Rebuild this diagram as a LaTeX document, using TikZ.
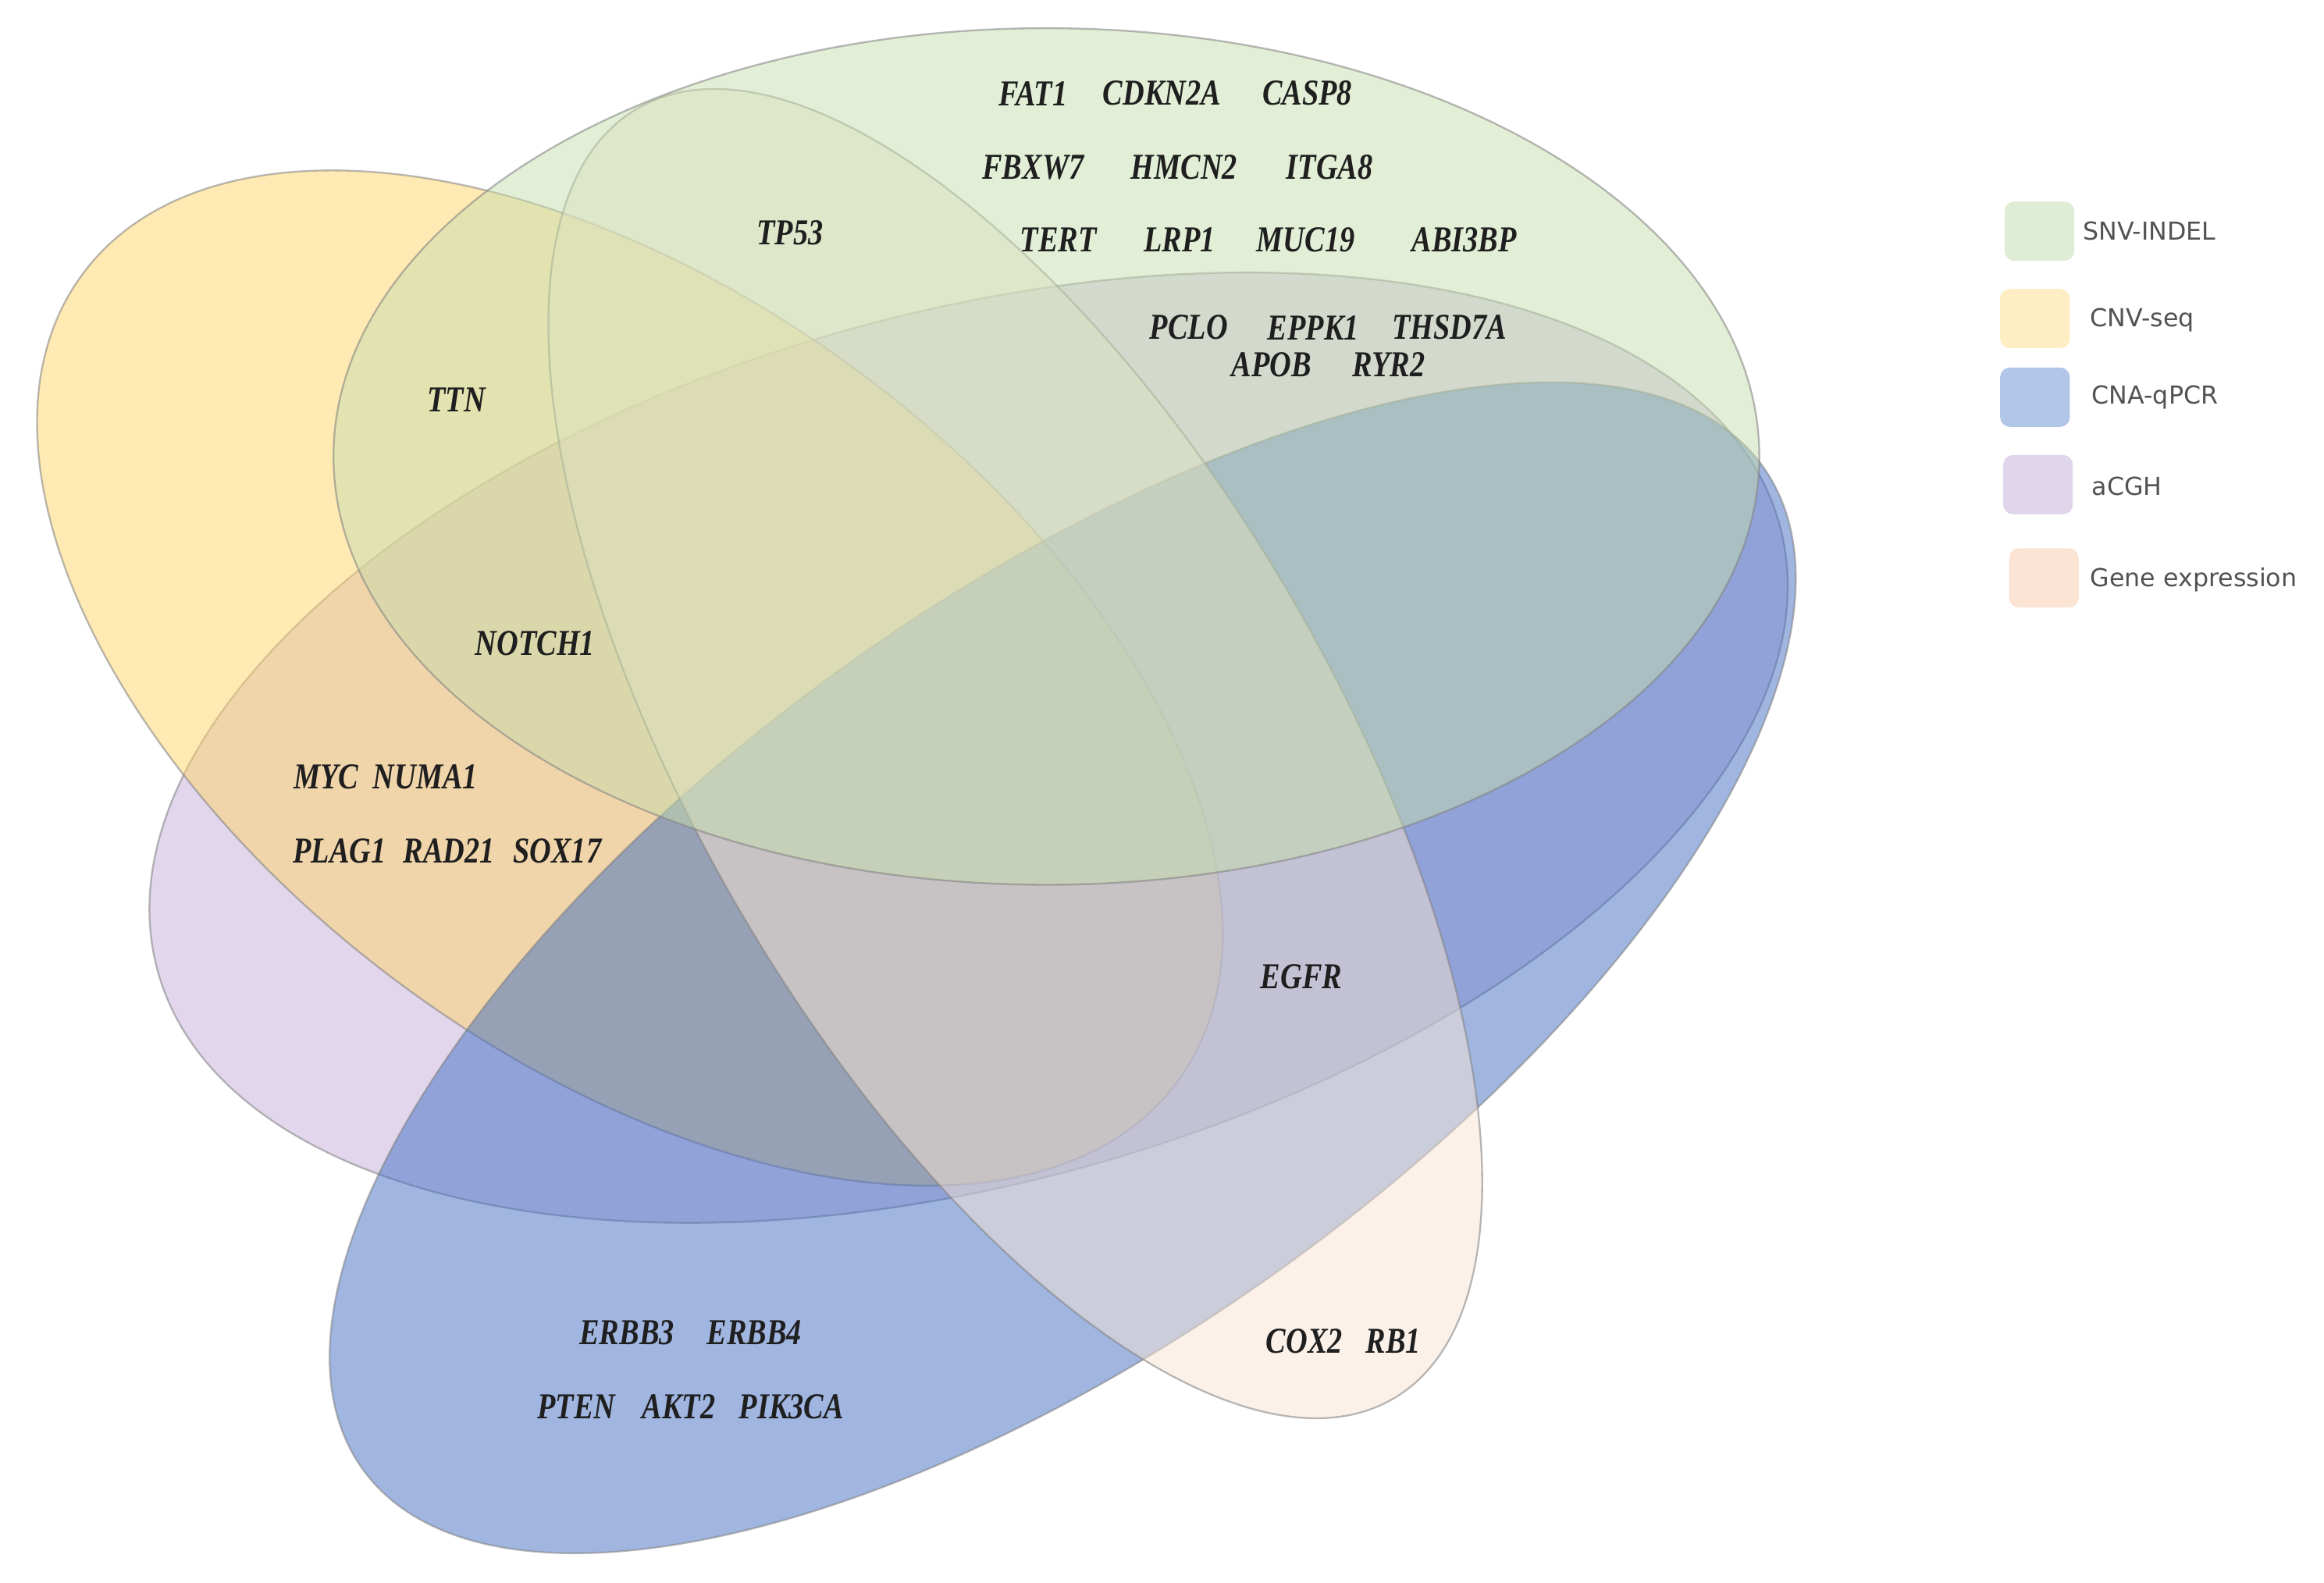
\documentclass[tikz,border=0pt]{standalone}
\usepackage{fontspec}
\setmainfont{Liberation Serif}
\newfontfamily\legendfont{DejaVu Sans}
\usepackage{graphicx}
\definecolor{cGreen}{RGB}{197,221,173}
\definecolor{cYellow}{RGB}{255,213,105}
\definecolor{cBlue}{RGB}{65,110,196}
\definecolor{cPeach}{RGB}{247,227,211}
\definecolor{cPurple}{RGB}{195,173,217}
\definecolor{lGreen}{RGB}{224,237,214}
\definecolor{lYellow}{RGB}{255,238,196}
\definecolor{lBlue}{RGB}{178,198,232}
\definecolor{lPurple}{RGB}{224,214,236}
\definecolor{lPeach}{RGB}{251,228,212}
\newcommand{\genename}[1]{\scalebox{0.82}[1]{#1}}
\begin{document}
\begin{tikzpicture}[
  setshape/.style={fill=#1, fill opacity=0.5, draw=black!50, draw opacity=0.55, line width=0.7pt},
  gene/.style={font=\fontsize{14}{16}\selectfont\bfseries\itshape, text=black!88, inner sep=0pt},
  legbox/.style={fill=#1, rounded corners=1.3mm, minimum width=0.94cm, minimum height=0.8cm, inner sep=0pt},
  legtext/.style={font=\legendfont\fontsize{9.5}{11}\selectfont, text=black!68, anchor=west, inner sep=0pt}
]
\useasboundingbox (0,0) rectangle (31.36,-21.36);

% sets (bottom to top)
\path[setshape=cPurple, shift={(13.07,-10.09)}, rotate=15.4] (0,0) ellipse [x radius=11.35, y radius=5.87];
\path[setshape=cYellow, shift={(8.50,-9.15)}, rotate=-36.4] (0,0) ellipse [x radius=9.18, y radius=5.16];
\path[setshape=cBlue, shift={(14.34,-13.06)}, rotate=35.6] (0,0) ellipse [x radius=11.62, y radius=5.02];
\path[setshape=cPeach, shift={(13.70,-10.17)}, rotate=-59.6] (0,0) ellipse [x radius=10.09, y radius=4.28];
\path[setshape=cGreen, shift={(14.12,-6.16)}] (0,0) ellipse [x radius=9.62, y radius=5.78];

% gene labels
\node[gene] (fat1)   at (13.94,-1.26) {\genename{FAT1}};
\node[gene] (cdkn2a) at (15.68,-1.26) {\genename{CDKN2A}};
\node[gene] (casp8)  at (17.64,-1.26) {\genename{CASP8}};
\node[gene] (fbxw7)  at (13.94,-2.26) {\genename{FBXW7}};
\node[gene] (hmcn2)  at (15.98,-2.26) {\genename{HMCN2}};
\node[gene] (itga8)  at (17.94,-2.26) {\genename{ITGA8}};
\node[gene] (tert)   at (14.28,-3.24) {\genename{TERT}};
\node[gene] (lrp1)   at (15.92,-3.24) {\genename{LRP1}};
\node[gene] (muc19)  at (17.62,-3.24) {\genename{MUC19}};
\node[gene] (abi3bp) at (19.76,-3.24) {\genename{ABI3BP}};
\node[gene] (pclo)   at (16.04,-4.42) {\genename{PCLO}};
\node[gene] (eppk1)  at (17.72,-4.42) {\genename{EPPK1}};
\node[gene] (thsd7a) at (19.56,-4.42) {\genename{THSD7A}};
\node[gene] (apob)   at (17.16,-4.92) {\genename{APOB}};
\node[gene] (ryr2)   at (18.74,-4.92) {\genename{RYR2}};
\node[gene] (tp53)   at (10.66,-3.14) {\genename{TP53}};
\node[gene] (ttn)    at (6.16,-5.40)  {\genename{TTN}};
\node[gene] (notch1) at (7.22,-8.68)  {\genename{NOTCH1}};
\node[gene] (myc)    at (4.40,-10.48) {\genename{MYC}};
\node[gene] (numa1)  at (5.74,-10.48) {\genename{NUMA1}};
\node[gene] (plag1)  at (4.58,-11.48) {\genename{PLAG1}};
\node[gene] (rad21)  at (6.06,-11.48) {\genename{RAD21}};
\node[gene] (sox17)  at (7.52,-11.48) {\genename{SOX17}};
\node[gene] (egfr)   at (17.56,-13.18) {\genename{EGFR}};
\node[gene] (erbb3)  at (8.46,-17.98) {\genename{ERBB3}};
\node[gene] (erbb4)  at (10.18,-17.98) {\genename{ERBB4}};
\node[gene] (pten)   at (7.78,-18.98) {\genename{PTEN}};
\node[gene] (akt2)   at (9.16,-18.98) {\genename{AKT2}};
\node[gene] (pik3ca) at (10.68,-18.98) {\genename{PIK3CA}};
\node[gene] (cox2)   at (17.60,-18.10) {\genename{COX2}};
\node[gene] (rb1)    at (18.80,-18.10) {\genename{RB1}};

% legend
\node[legbox=lGreen]  (lg1) at (27.52,-3.12) {};
\node[legbox=lYellow] (lg2) at (27.46,-4.30) {};
\node[legbox=lBlue]   (lg3) at (27.46,-5.36) {};
\node[legbox=lPurple] (lg4) at (27.50,-6.54) {};
\node[legbox=lPeach]  (lg5) at (27.58,-7.80) {};
\node[legtext] (lt1) at (28.10,-3.12) {SNV-INDEL};
\node[legtext] (lt2) at (28.20,-4.32) {CNV-seq};
\node[legtext] (lt3) at (28.22,-5.36) {CNA-qPCR};
\node[legtext] (lt4) at (28.22,-6.56) {aCGH};
\node[legtext] (lt5) at (28.20,-7.82) {Gene expression};
\end{tikzpicture}
\end{document}
